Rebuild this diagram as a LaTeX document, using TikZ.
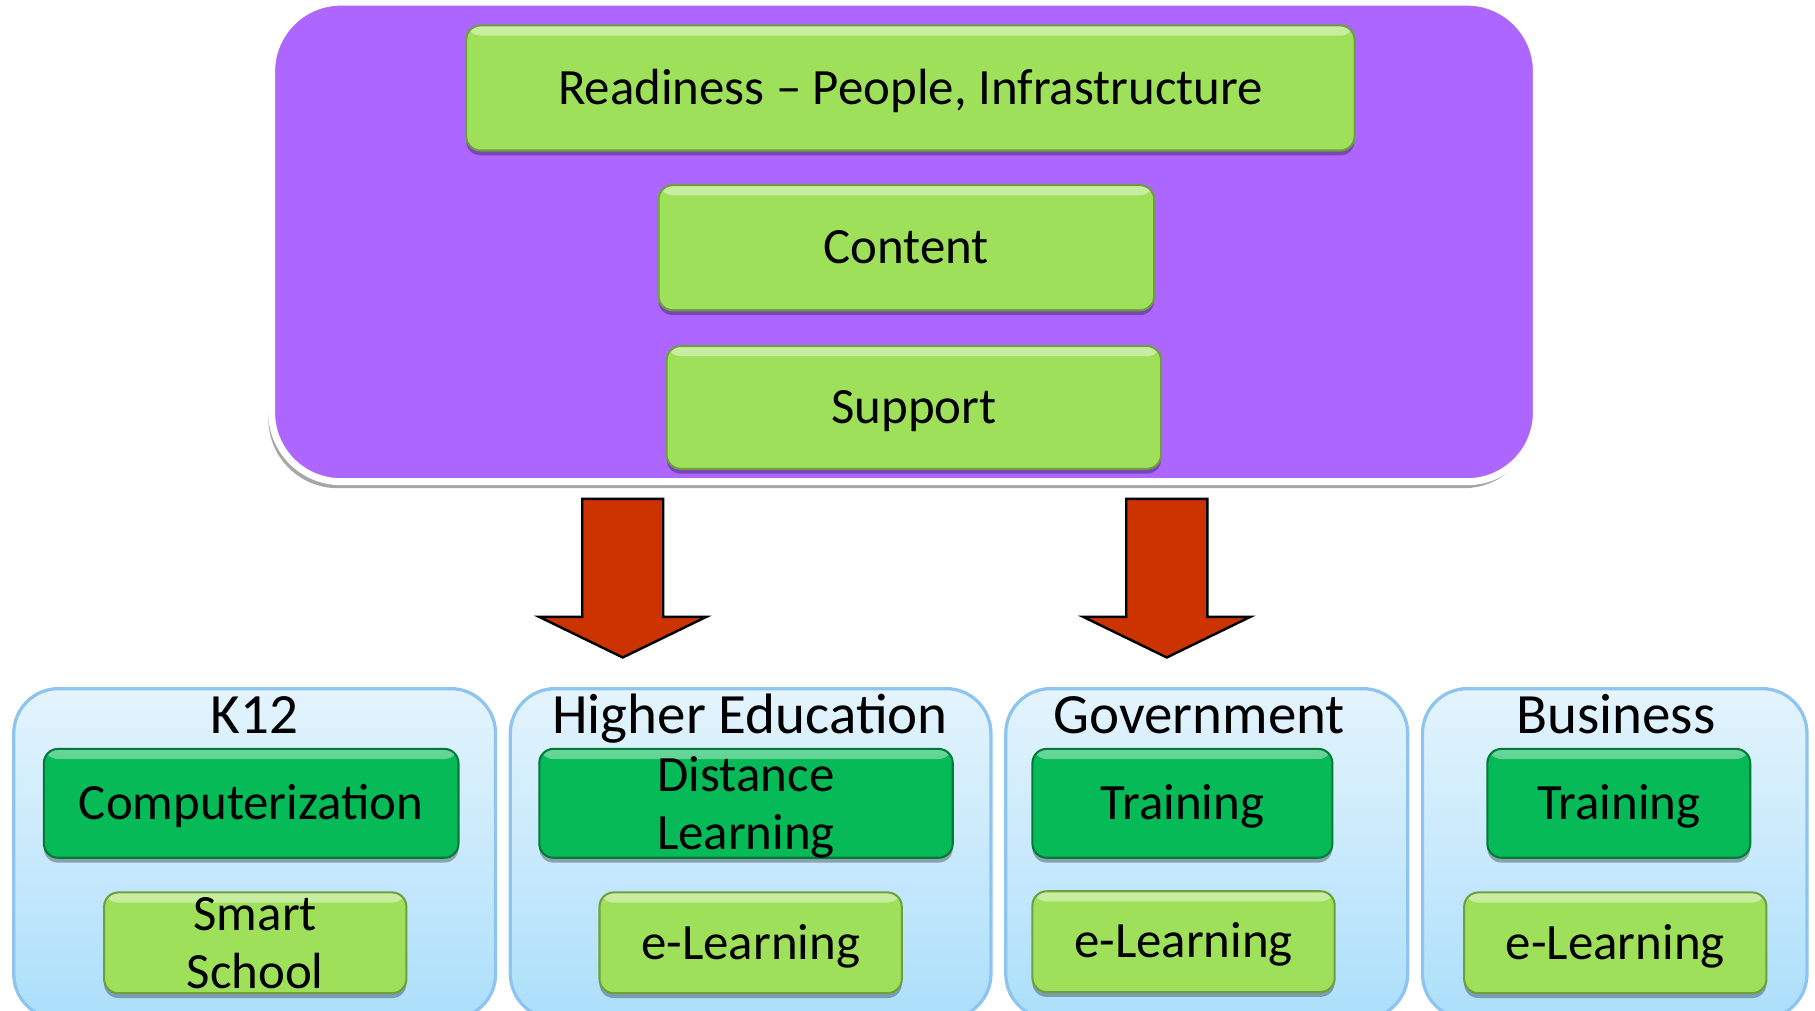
\documentclass[tikz,border=0pt]{standalone}
\usepackage{fontspec}
\setmainfont{Carlito}
\usetikzlibrary{shadows}
\definecolor{violetbg}{RGB}{173,102,255}
\definecolor{leafgreen}{RGB}{158,224,90}
\definecolor{deepgreen}{RGB}{5,186,87}
\definecolor{skytop}{RGB}{228,244,253}
\definecolor{skybottom}{RGB}{172,223,251}
\definecolor{skyline}{RGB}{141,196,240}
\definecolor{rustred}{RGB}{204,51,0}

\begin{document}
\begin{tikzpicture}[
			x=0.01cm, y=-0.01cm,
			panel/.style={rectangle,rounded corners=17pt,fill=violetbg,draw=white,
			line width=1.7pt,inner sep=0pt,
			drop shadow={shadow xshift=-0.8pt,shadow yshift=-1.6pt,opacity=1,fill=gray!70}},
			leafbox/.style={rectangle,rounded corners=3.5pt,fill=leafgreen,
			draw=leafgreen!70!black,line width=0.5pt,inner sep=0pt,align=center,
			font=\fontsize{12.5}{14.2}\selectfont,text height=8pt,text depth=0pt,
			drop shadow={shadow xshift=0pt,shadow yshift=-1.2pt,opacity=0.3,fill=black},
			path picture={\shade[top color=leafgreen!55!white,bottom color=leafgreen]
				(path picture bounding box.north west) rectangle
				([yshift=-2.5pt]path picture bounding box.north east);}},
			deepbox/.style={leafbox,fill=deepgreen,draw=deepgreen!65!black,
			path picture={\shade[top color=deepgreen!60!white,bottom color=deepgreen]
				(path picture bounding box.north west) rectangle
				([yshift=-2.5pt]path picture bounding box.north east);}},
			sector/.style={rectangle,rounded corners=11pt,top color=skytop,
			bottom color=skybottom,draw=skyline,line width=0.8pt,inner sep=0pt},
			sectortitle/.style={anchor=base,font=\fontsize{14}{16}\selectfont},
			bigarrow/.style={fill=rustred,draw=black,line width=0.6pt}
			]
			\useasboundingbox (0,0) rectangle (1568,873);
			\node[panel, minimum width=10.92cm, minimum height=4.14cm] (core) at (781,209) {};
			\node[leafbox, minimum width=7.67cm, minimum height=1.08cm] (ready) at (786.5,76)
				{Readiness -- People, Infrastructure};
			\node[leafbox, minimum width=4.28cm, minimum height=1.08cm] (content) at (783,214) {Content};
			\node[leafbox, minimum width=4.27cm, minimum height=1.06cm] (support) at (789.5,352) {Support};
			\foreach \ax in {538, 1008}
				\draw[bigarrow] (\ax-35,431) -- (\ax+35,431) -- (\ax+35,533) -- (\ax+72,533)
					-- (\ax,568) -- (\ax-72,533) -- (\ax-35,533) -- cycle;
			\node[sector, minimum width=4.16cm, minimum height=2.85cm] (k12) at (220,737.5) {};
			\node[sector, minimum width=4.15cm, minimum height=2.85cm] (higher) at (648.5,737.5) {};
			\node[sector, minimum width=3.47cm, minimum height=2.85cm] (gov) at (1042.5,737.5) {};
			\node[sector, minimum width=3.32cm, minimum height=2.85cm] (biz) at (1395,737.5) {};
			\node[sectortitle] (k12t) at (220,634) {K12};
			\node[sectortitle] (highert) at (648,634) {Higher Education};
			\node[sectortitle] (govt) at (1036,634) {Government};
			\node[sectortitle] (bizt) at (1396,634) {Business};
			\node[deepbox, minimum width=3.58cm, minimum height=0.94cm] (comp) at (217,694) {Computerization};
			\node[deepbox, minimum width=3.57cm, minimum height=0.94cm, text height=] (dist) at (644.5,694)
				{Distance\\Learning};
			\node[deepbox, minimum width=2.59cm, minimum height=0.94cm] (govtrain) at (1021.5,694) {Training};
			\node[deepbox, minimum width=2.27cm, minimum height=0.94cm] (biztrain) at (1398.5,694) {Training};
			\node[leafbox, minimum width=2.61cm, minimum height=0.87cm, text height=] (smart) at (220.5,814.5)
				{Smart\\School};
			\node[leafbox, minimum width=2.61cm, minimum height=0.87cm] (highere) at (648.5,814.5) {e-Learning};
			\node[leafbox, minimum width=2.61cm, minimum height=0.87cm] (gove) at (1022.5,813.5) {e-Learning};
			\node[leafbox, minimum width=2.61cm, minimum height=0.87cm] (bize) at (1395.5,814.5) {e-Learning};
		\end{tikzpicture}
\end{document}
